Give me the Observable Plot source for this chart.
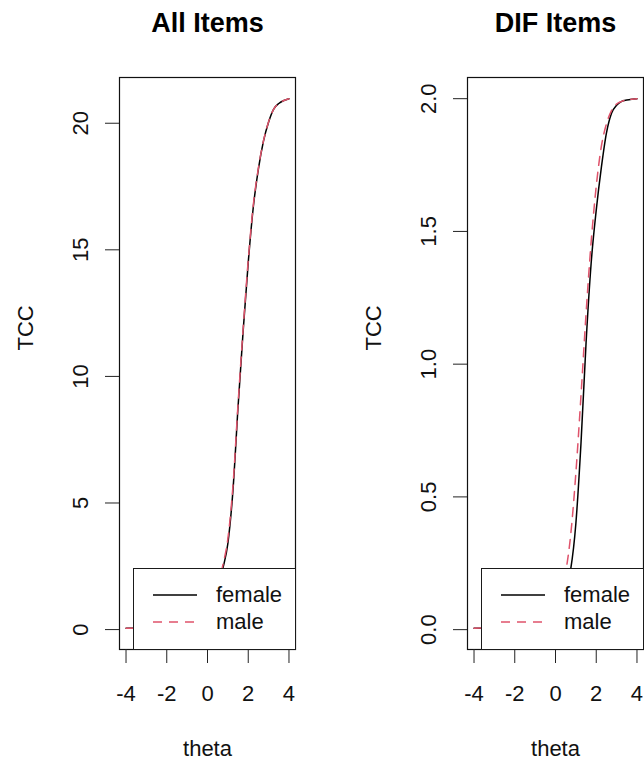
<!DOCTYPE html>
<html>
<head>
<meta charset="utf-8">
<script src="https://cdn.jsdelivr.net/npm/d3@7"></script>
<script src="https://cdn.jsdelivr.net/npm/@observablehq/plot@0.6"></script>
<style>
  body { margin: 0; background: #fff; font-family: "Liberation Sans", Arial, Helvetica, sans-serif; }
  #wrap { position: relative; width: 644px; height: 762px; overflow: hidden; background: #fff; }
  .panel { position: absolute; top: 0; }
  .legend { position: absolute; box-sizing: border-box; background: #fff; border: 1px solid #1a1a1a; }
  .legend .row { position: absolute; left: 0; height: 26px; width: 100%; }
  .legend svg { position: absolute; left: 19px; top: 0; }
  .legend span { position: absolute; left: 82px; top: 0; line-height: 26px; font-size: 22px; color: #111; white-space: nowrap; }
</style>
</head>
<body>
<div id="wrap"></div>
<script>
// ---- data ----
const theta = [-4, -3, -2, -1, -0.5, 0, 0.25, 0.5, 0.75, 1.0, 1.25, 1.5, 1.75, 2.0, 2.25, 2.5, 2.75, 3.0, 3.25, 3.5, 3.75, 4.0];
const allFemale = [0.05, 0.06, 0.08, 0.15, 0.30, 0.60, 1.00, 1.60, 2.40, 3.40, 5.50, 8.80, 11.80, 14.50, 16.70, 18.20, 19.30, 20.05, 20.56, 20.78, 20.90, 20.97];
const allMale   = [0.05, 0.06, 0.09, 0.17, 0.33, 0.64, 1.06, 1.66, 2.53, 3.59, 5.68, 8.91, 11.88, 14.59, 16.78, 18.24, 19.31, 20.06, 20.56, 20.78, 20.90, 20.97];
const difFemale = [0.005, 0.006, 0.010, 0.020, 0.040, 0.080, 0.110, 0.160, 0.230, 0.400, 0.700, 1.080, 1.380, 1.580, 1.740, 1.870, 1.945, 1.975, 1.990, 1.995, 1.998, 2.000];
const difMale   = [0.005, 0.008, 0.015, 0.040, 0.070, 0.120, 0.170, 0.220, 0.360, 0.590, 0.880, 1.190, 1.460, 1.670, 1.820, 1.905, 1.955, 1.980, 1.990, 1.996, 1.998, 2.000];
const groups = ["female", "male"];
const groupColors = ["#000000", "#DF536B"];
const groupDash = ["none", "9,7"];
const xTicks = [-4, -2, 0, 2, 4];
const allYTicks = [0, 5, 10, 15, 20];
const difYTicks = [0, 0.5, 1.0, 1.5, 2.0];
const panelTitles = ["All Items", "DIF Items"];
const xLabel = "theta";
const yLabel = "TCC";

const FONT = '"Liberation Sans", Arial, Helvetica, sans-serif';

function pad(ext) {
  const r = ext[1] - ext[0];
  return [ext[0] - 0.04 * r, ext[1] + 0.04 * r];
}

function panel({title, female, male, yTicks, yFormat, marginLeft, marginRight}) {
  const series = [female, male].map(vals => theta.map((t, i) => ({theta: t, tcc: vals[i]})));
  return Plot.plot({
    width: 322,
    height: 762,
    marginLeft, marginRight,
    marginTop: 77,
    marginBottom: 113,
    style: {fontFamily: FONT, fontSize: "22px", color: "#111", background: "transparent", overflow: "visible"},
    x: {domain: pad(d3.extent(theta))},
    y: {domain: pad(d3.extent(female))},
    marks: [
      ...series.map((s, k) => Plot.line(s, {
        x: "theta", y: "tcc", stroke: groupColors[k], strokeWidth: 1.5,
        strokeDasharray: groupDash[k], curve: "monotone-x"
      })),
      Plot.frame({stroke: "#111", strokeWidth: 1.2}),
      Plot.axisX({ticks: xTicks, tickSize: 14, tickPadding: 22, label: null, stroke: "#222", tickFormat: d => String(d)}),
      Plot.axisY({ticks: yTicks, tickSize: 14, tickPadding: 18, tickRotate: -90, label: null, tickFormat: yFormat, stroke: "#222"}),
      Plot.text([title], {text: d => d, frameAnchor: "top", dy: -54, lineAnchor: "middle", fontSize: 27, fontWeight: "bold", fill: "#000"}),
      Plot.text([xLabel], {text: d => d, frameAnchor: "bottom", dy: 99, lineAnchor: "middle", fill: "#111"}),
      Plot.text([yLabel], {text: d => d, frameAnchor: "left", dx: -94, dy: -13, rotate: -90, lineAnchor: "middle", fill: "#111"})
    ]
  });
}

function legend(left) {
  const box = document.createElement("div");
  box.className = "legend";
  Object.assign(box.style, {left: left + "px", top: "568px", width: "163px", height: "82px"});
  groups.forEach((g, k) => {
    const row = document.createElement("div");
    row.className = "row";
    row.style.top = (13 + 27 * k) + "px";
    const svg = d3.create("svg").attr("width", 44).attr("height", 26);
    svg.append("line").attr("x1", 0).attr("x2", 44).attr("y1", 13).attr("y2", 13)
      .attr("stroke", groupColors[k]).attr("stroke-width", 1.5)
      .attr("stroke-dasharray", groupDash[k]);
    row.appendChild(svg.node());
    const span = document.createElement("span");
    span.textContent = g;
    row.appendChild(span);
    box.appendChild(row);
  });
  return box;
}

const wrap = document.getElementById("wrap");

const p1 = document.createElement("div");
p1.className = "panel"; p1.style.left = "0px";
p1.appendChild(panel({title: panelTitles[0], female: allFemale, male: allMale, yTicks: allYTicks, yFormat: d => String(d), marginLeft: 119, marginRight: 27}));
wrap.appendChild(p1);

const p2 = document.createElement("div");
p2.className = "panel"; p2.style.left = "322px";
p2.appendChild(panel({title: panelTitles[1], female: difFemale, male: difMale, yTicks: difYTicks, yFormat: d3.format(".1f"), marginLeft: 145, marginRight: 1}));
wrap.appendChild(p2);

wrap.appendChild(legend(133));
wrap.appendChild(legend(481));
</script>
</body>
</html>
